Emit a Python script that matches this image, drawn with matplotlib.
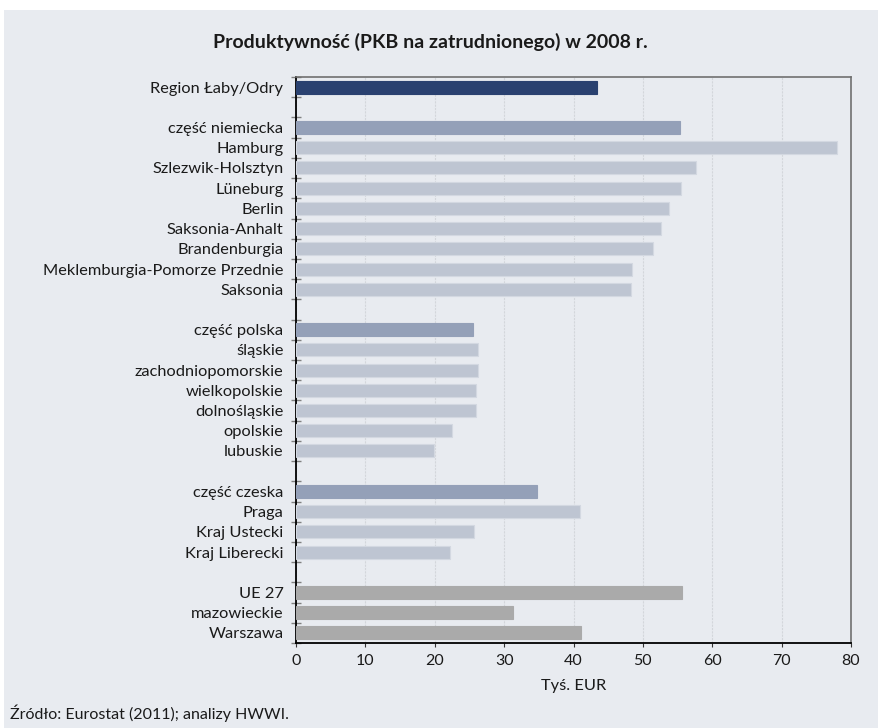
import matplotlib
matplotlib.use('Agg')
import matplotlib.pyplot as plt
from matplotlib.patches import Rectangle
import numpy as np

# data (Tys. EUR per employee, 2008)
labels = ['Region Łaby/Odry', '',
          'część niemiecka', 'Hamburg', 'Szlezwik-Holsztyn', 'Lüneburg', 'Berlin',
          'Saksonia-Anhalt', 'Brandenburgia', 'Meklemburgia-Pomorze Przednie', 'Saksonia', '',
          'część polska', 'śląskie', 'zachodniopomorskie', 'wielkopolskie', 'dolnośląskie',
          'opolskie', 'lubuskie', '',
          'część czeska', 'Praga', 'Kraj Ustecki', 'Kraj Liberecki', '',
          'UE 27', 'mazowieckie', 'Warszawa']
values = [43.4, None,
          55.3, 78.0, 57.7, 55.5, 53.7, 52.6, 51.5, 48.4, 48.3, None,
          25.5, 26.3, 26.2, 26.0, 25.9, 22.5, 19.9, None,
          34.7, 41.0, 25.6, 22.2, None,
          55.6, 31.3, 41.1]
# bar kind: 0 total, 1 country part, 2 region, 3 reference
kinds = [0, None,
         1, 2, 2, 2, 2, 2, 2, 2, 2, None,
         1, 2, 2, 2, 2, 2, 2, None,
         1, 2, 2, 2, None,
         3, 3, 3]

bg = '#e8ebf0'
fills = {0: '#2a4170', 1: '#94a0b8', 2: '#bec5d2', 3: '#aaaaaa'}
edges = {0: '#2a4170', 1: '#94a0b8', 2: '#d3d8e1', 3: '#aaaaaa'}

plt.rcParams['font.family'] = ['Lato', 'DejaVu Sans']

fig = plt.figure(figsize=(8.79, 7.28), dpi=100)
fig.patch.set_facecolor('white')
fig.patches.append(Rectangle((4 / 879, 0), 1, 1 - 10 / 728, transform=fig.transFigure,
                             facecolor=bg, edgecolor='none', zorder=-1))

ax = fig.add_axes([296 / 879, 1 - 643 / 728, (851 - 296) / 879, (643 - 77) / 728])
ax.set_facecolor(bg)

y = np.arange(len(labels))
for i, (v, k) in enumerate(zip(values, kinds)):
    if v is None:
        continue
    ax.barh(y[i], v, height=0.64, color=fills[k], edgecolor=edges[k], linewidth=0.8, zorder=3)

ax.set_xlim(0, 80)
ax.set_ylim(len(labels) - 0.5, -0.5)
ax.set_xticks(np.arange(0, 81, 10))
ax.xaxis.grid(True, color='#d3d6db', linewidth=0.8, linestyle=(0, (2, 1)), zorder=0)

ax.set_yticks(y)
ax.set_yticklabels(labels, fontsize=11.8, color='#1a1a1a')
ax.set_yticks(np.arange(-0.5, len(labels), 1), minor=True)
ax.tick_params(axis='y', which='major', length=0, pad=9)
ax.tick_params(axis='y', which='minor', direction='inout', length=7, color='#808080', width=1)
ax.tick_params(axis='x', which='major', direction='out', length=3, color='#333333',
               labelsize=11.5, labelcolor='#1a1a1a', pad=5)

for s in ['top', 'right']:
    ax.spines[s].set_color('#707070')
    ax.spines[s].set_linewidth(1.2)
for s in ['left', 'bottom']:
    ax.spines[s].set_color('black')
    ax.spines[s].set_linewidth(1.3)

ax.set_xlabel('Tyś. EUR', fontsize=11.8, labelpad=8, color='#1a1a1a')

fig.text(430 / 879, 1 - 42 / 728, 'Produktywność (PKB na zatrudnionego) w 2008 r.',
         fontsize=14, fontweight='bold', ha='center', va='center', color='#1a1a1a')
fig.text(10 / 879, 1 - 713 / 728, 'Źródło: Eurostat (2011); analizy HWWI.',
         fontsize=11.5, ha='left', va='center', color='#1a1a1a')

fig.savefig('out.png', dpi=100, facecolor=fig.get_facecolor())
